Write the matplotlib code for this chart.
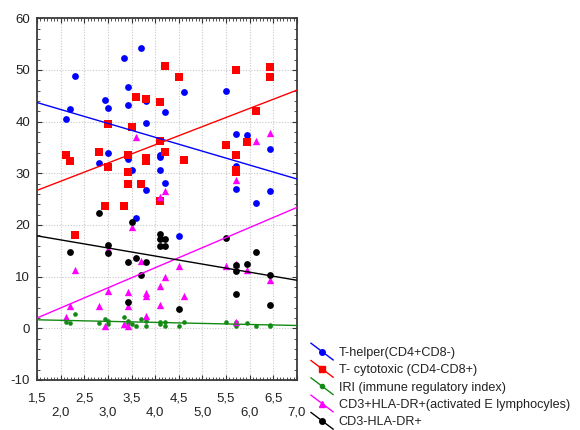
import numpy as np
import matplotlib
matplotlib.use("Agg")
import matplotlib.pyplot as plt
from matplotlib.lines import Line2D
from matplotlib.legend_handler import HandlerBase
from matplotlib.ticker import MultipleLocator, AutoMinorLocator

plt.rcParams['font.family'] = ['Liberation Sans', 'DejaVu Sans']

# ---------------- data ----------------
helper_x = [2.30, 2.20, 2.12, 3.33, 3.70, 3.42, 2.93, 3.00, 3.42, 3.80, 3.80, 4.20, 4.62, 5.50,
            5.72, 5.94, 2.82, 3.00, 3.42, 3.50, 3.80, 3.59, 4.10, 4.10, 4.10, 4.20, 4.51, 5.72,
            5.72, 6.13, 6.43, 6.43]
helper_y = [48.9, 42.5, 40.6, 52.3, 54.3, 46.8, 44.2, 42.7, 43.2, 44.0, 39.8, 41.9, 45.7, 45.9,
            37.6, 37.4, 31.9, 34.0, 32.7, 30.7, 26.8, 21.4, 33.6, 33.1, 30.7, 28.1, 17.8, 31.4,
            27.0, 24.3, 34.7, 26.5]

cyto_x = [4.20, 4.50, 5.72, 6.43, 6.43, 3.59, 3.80, 4.10, 6.13, 3.00, 3.50, 4.10, 2.12, 2.20,
          2.82, 3.00, 3.42, 3.80, 3.80, 4.20, 4.62, 3.42, 3.42, 3.70, 4.10, 2.93, 3.33, 2.31,
          5.50, 5.94, 5.72, 5.72, 5.72]
cyto_y = [50.8, 48.6, 49.9, 50.6, 48.6, 44.7, 44.4, 43.8, 42.1, 39.6, 39.0, 36.3, 33.6, 32.4,
          34.2, 31.3, 33.5, 32.9, 32.3, 34.1, 32.6, 30.2, 28.0, 28.0, 24.7, 23.6, 23.6, 18.1,
          35.4, 36.1, 33.5, 30.7, 30.3]

iri_x = [2.12, 2.20, 2.31, 2.82, 2.93, 3.00, 3.00, 3.33, 3.42, 3.42, 3.50, 3.59, 3.70, 3.80,
         3.80, 4.10, 4.10, 4.20, 4.20, 4.51, 4.62, 5.50, 5.72, 5.72, 5.94, 6.13, 6.43, 6.43]
iri_y = [1.3, 1.1, 2.7, 1.0, 1.8, 1.5, 0.9, 2.2, 1.5, 1.0, 0.9, 0.5, 1.8, 1.4,
         0.5, 1.2, 0.8, 1.2, 0.5, 0.5, 1.2, 1.2, 1.2, 0.5, 1.0, 0.5, 0.7, 0.5]

act_x = [2.12, 2.20, 2.31, 2.82, 2.93, 3.00, 3.00, 3.33, 3.42, 3.42, 3.42, 3.50, 3.59, 3.70,
         3.80, 3.80, 3.80, 4.10, 4.10, 4.10, 4.20, 4.20, 4.51, 4.62, 5.50, 5.72, 5.72, 5.72,
         5.94, 6.13, 6.43, 6.43]
act_y = [2.1, 4.4, 11.3, 4.4, 0.5, 7.3, 15.3, 0.9, 7.1, 4.4, 0.4, 19.6, 37.0, 13.1,
         6.8, 6.3, 2.4, 8.1, 4.5, 25.5, 26.6, 10.0, 12.1, 6.2, 12.1, 12.5, 28.7, 1.2,
         11.2, 36.3, 37.8, 9.3]

neg_x = [2.20, 2.82, 3.00, 3.00, 3.42, 3.42, 3.50, 3.59, 3.70, 3.80, 4.10, 4.10, 4.10, 4.20,
         4.20, 4.51, 5.50, 5.72, 5.72, 5.72, 5.94, 6.13, 6.43, 6.43]
neg_y = [14.8, 22.3, 16.2, 14.6, 12.8, 5.0, 20.5, 13.6, 10.3, 12.8, 18.2, 17.2, 16.0, 17.2,
         16.0, 3.7, 17.4, 12.2, 11.1, 6.7, 12.5, 14.8, 10.3, 4.6]

# regression lines, read at x = 1.5 and x = 7.0
fit_x = [1.5, 7.0]
helper_fit = [43.7, 28.9]
cyto_fit = [26.7, 46.1]
iri_fit = [1.65, 0.55]
act_fit = [2.0, 23.4]
neg_fit = [17.9, 9.3]

labels = ["T-helper(CD4+CD8-)", "T- cytotoxic (CD4-CD8+)", "IRI (immune regulatory index)",
          "CD3+HLA-DR+(activated E lymphocyles)", "CD3-HLA-DR+"]
x_ticks = [1.5, 2.0, 2.5, 3.0, 3.5, 4.0, 4.5, 5.0, 5.5, 6.0, 6.5, 7.0]
x_ticklabels = ["1,5", "2,0", "2,5", "3,0", "3,5", "4,0", "4,5", "5,0", "5,5", "6,0", "6,5", "7,0"]
y_ticks = [-10, 0, 10, 20, 30, 40, 50, 60]

# ---------------- figure ----------------
fig = plt.figure(figsize=(5.8, 4.3), dpi=100)
ax = fig.add_axes([37 / 580, 1 - 380 / 430, 260 / 580, 361.7 / 430])

series = [
    (helper_x, helper_y, helper_fit, '#0000ff', 'o', 24),
    (cyto_x, cyto_y, cyto_fit, '#ff0000', 's', 26),
    (iri_x, iri_y, iri_fit, '#138a13', 'o', 11),
    (act_x, act_y, act_fit, '#ff00ff', '^', 28),
    (neg_x, neg_y, neg_fit, '#000000', 'o', 24),
]

handles = []
for (xs, ys, fit, col, mk, s), lab in zip(series, labels):
    ax.scatter(xs, ys, s=s, marker=mk, color=col, linewidths=0, zorder=3)
    ax.plot(fit_x, fit, color=col, lw=1.0, zorder=4)
    handles.append(Line2D([], [], color=col, marker=mk, markersize=4 if mk != 'o' or s > 15 else 3,
                          lw=1.0, label=lab))

ax.set_xlim(1.5, 7.0)
ax.set_ylim(-10, 60)
ax.set_xticks(x_ticks)
ax.set_xticklabels([t if i % 2 == 0 else "\n" + t for i, t in enumerate(x_ticklabels)])
ax.set_yticks(y_ticks)
ax.set_yticklabels([str(v) for v in y_ticks])
ax.xaxis.set_minor_locator(AutoMinorLocator(7))
ax.yaxis.set_minor_locator(AutoMinorLocator(5))
ax.tick_params(which='both', direction='in', top=True, right=True, colors='#333333',
               labelcolor='#222222', labelsize=9.5)
ax.tick_params(which='major', length=3.5, width=0.8)
ax.tick_params(which='minor', length=2, width=0.6)
ax.tick_params(axis='x', pad=9)
ax.tick_params(axis='y', pad=5)
ax.grid(True, which='major', color='#c8c8c8', linestyle=(0, (1, 1.5)), lw=0.8)
ax.set_axisbelow(True)
for sp in ax.spines.values():
    sp.set_color('#3a3a3a')
    sp.set_linewidth(1.3)


class DiagHandler(HandlerBase):
    def create_artists(self, legend, orig_handle, xdescent, ydescent, width, height, fontsize, trans):
        cy = height / 2 - ydescent
        line = Line2D([-xdescent, -xdescent + width], [cy + 6, cy - 6],
                      color=orig_handle.get_color(), lw=orig_handle.get_linewidth(), transform=trans)
        mk = Line2D([-xdescent + width / 2], [cy], marker=orig_handle.get_marker(),
                    markersize=orig_handle.get_markersize(), color=orig_handle.get_color(),
                    linestyle='none', transform=trans)
        return [line, mk]


fig.legend(handles=handles, loc='upper left', bbox_to_anchor=(311 / 580, 1 - 347 / 430),
           frameon=False, borderpad=0, borderaxespad=0, handlelength=1.75, handletextpad=0.45,
           labelspacing=0.42, fontsize=9.1, handler_map={Line2D: DiagHandler()},
           labelcolor='#222222')

fig.savefig("out.png", dpi=100)
